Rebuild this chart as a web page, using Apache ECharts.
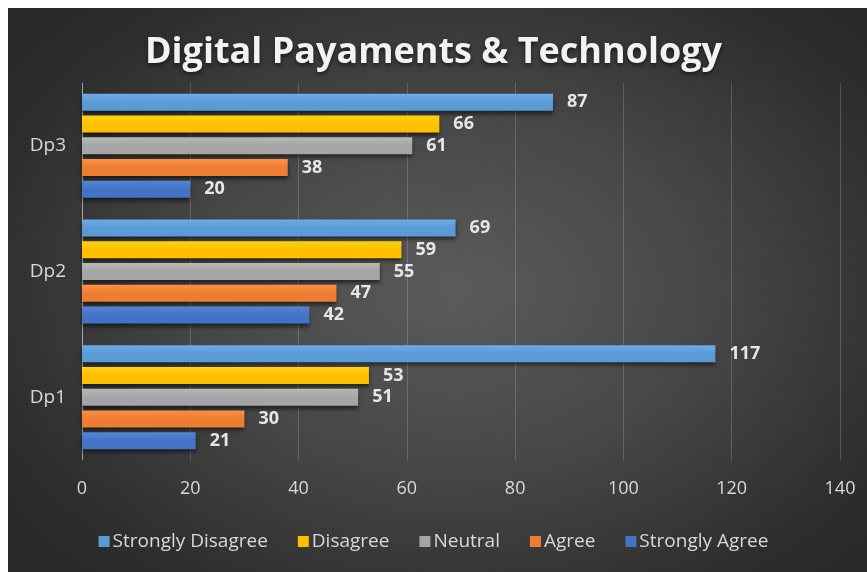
<!DOCTYPE html>
<html>
<head>
<meta charset="utf-8">
<script src="https://cdn.jsdelivr.net/npm/echarts@6/dist/echarts.min.js"></script>
<style>
  html, body { margin: 0; padding: 0; background: #ffffff; }
  #panel {
    position: absolute; left: 8px; top: 8px; width: 859px; height: 564px;
    background: radial-gradient(ellipse 65% 70% at 52% 50%, #5b5b5b 0%, #474747 45%, #2e2e2e 85%, #282828 100%);
  }
  #chart { position: absolute; left: 0; top: 0; width: 867px; height: 572px; }
</style>
</head>
<body>
<div id="panel"></div>
<div id="chart"></div>
<script>
// Survey responses per item, one array per answer
const categories = ['Dp1', 'Dp2', 'Dp3'];
const stronglyDisagree = [117, 69, 87];
const disagree = [53, 59, 66];
const neutral = [51, 55, 61];
const agree = [30, 47, 38];
const stronglyAgree = [21, 42, 20];
const xTicks = [0, 20, 40, 60, 80, 100, 120, 140];

const answerNames = ['Strongly Disagree', 'Disagree', 'Neutral', 'Agree', 'Strongly Agree'];
const colors = {
  'Strongly Disagree': '#5b9bd5',
  'Disagree': '#ffc000',
  'Neutral': '#a5a5a5',
  'Agree': '#ed7d31',
  'Strongly Agree': '#4472c4'
};
const valuesByName = {
  'Strongly Disagree': stronglyDisagree,
  'Disagree': disagree,
  'Neutral': neutral,
  'Agree': agree,
  'Strongly Agree': stronglyAgree
};

const font = '"Open Sans", Lato, sans-serif';

function lighten(hex, amt) {
  const n = parseInt(hex.slice(1), 16);
  const r = Math.min(255, (n >> 16) + amt), g = Math.min(255, ((n >> 8) & 255) + amt), b = Math.min(255, (n & 255) + amt);
  return 'rgb(' + r + ',' + g + ',' + b + ')';
}

// Series order runs from the top bar of each group downwards
const series = answerNames.map(name => ({
  name: name,
  type: 'bar',
  data: valuesByName[name],
  barWidth: 17,
  barGap: '28%',
  itemStyle: {
    color: {
      type: 'linear', x: 0, y: 0, x2: 0, y2: 1,
      colorStops: [
        { offset: 0, color: lighten(colors[name], 18) },
        { offset: 0.5, color: colors[name] },
        { offset: 1, color: colors[name] }
      ]
    },
    shadowColor: 'rgba(0,0,0,0.55)',
    shadowBlur: 4,
    shadowOffsetY: 3
  },
  label: {
    show: true,
    position: 'right',
    distance: 14,
    color: '#e6e6e6',
    fontFamily: font,
    fontWeight: 'bold',
    fontSize: 18
  }
}));

const chart = echarts.init(document.getElementById('chart'), null, { renderer: 'canvas' });
chart.setOption({
  backgroundColor: 'transparent',
  color: answerNames.map(n => colors[n]),
  title: {
    text: 'Digital Payaments & Technology',
    left: 'center',
    top: 30,
    textStyle: {
      color: '#f2f2f2',
      fontFamily: font,
      fontWeight: 'bold',
      fontSize: 36,
      textShadowColor: 'rgba(0,0,0,0.6)',
      textShadowBlur: 4,
      textShadowOffsetY: 2
    }
  },
  legend: {
    data: answerNames.map(n => ({ name: n, itemStyle: { color: colors[n] } })),
    bottom: 16,
    left: 'center',
    itemWidth: 11,
    itemHeight: 11,
    itemGap: 30,
    icon: 'rect',
    textStyle: { color: '#d9d9d9', fontFamily: font, fontSize: 19, padding: [0, 0, 0, -2] }
  },
  grid: { left: 82, right: 27, top: 83, bottom: 112, containLabel: false },
  xAxis: {
    type: 'value',
    min: xTicks[0],
    max: xTicks[xTicks.length - 1],
    interval: xTicks[1] - xTicks[0],
    axisLine: { show: false },
    axisTick: { show: false },
    axisLabel: { color: '#d9d9d9', fontFamily: font, fontSize: 18, margin: 20 },
    splitLine: { show: true, lineStyle: { color: 'rgba(255,255,255,0.18)', width: 1 } }
  },
  yAxis: {
    type: 'category',
    data: categories,
    axisLine: { show: true, lineStyle: { color: 'rgba(255,255,255,0.45)', width: 1 } },
    axisTick: { show: false },
    axisLabel: { color: '#d9d9d9', fontFamily: font, fontSize: 19, margin: 16 }
  },
  series: series
});
</script>
</body>
</html>
